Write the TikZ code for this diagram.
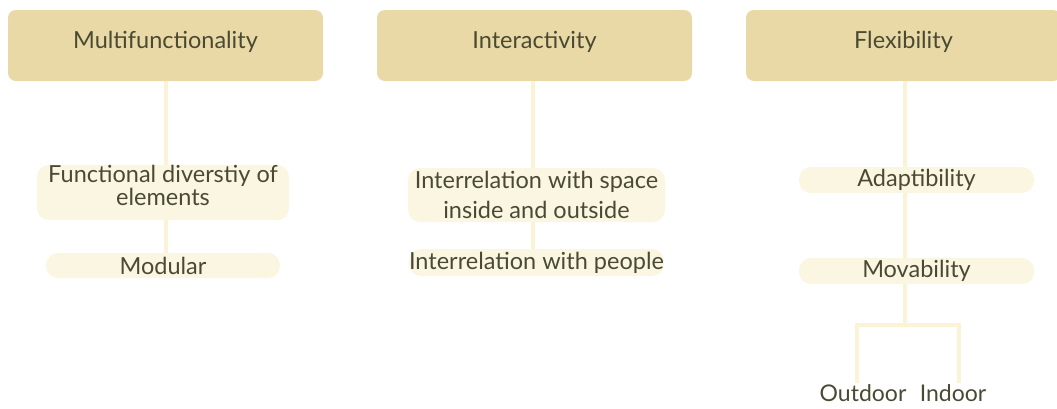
\documentclass[tikz,border=0pt]{standalone}
\usepackage{fontspec}
\setmainfont{Lato}
\usetikzlibrary{positioning}
\definecolor{headfill}{HTML}{E9D9A7}
\definecolor{subfill}{HTML}{FBF6E2}
\definecolor{linkcol}{HTML}{FAF3D6}
\definecolor{ink}{HTML}{4A4A33}
\tikzset{head/.style={rectangle,fill=headfill,rounded corners=8pt,minimum width=315pt,minimum height=71pt,text height=17pt,text depth=12pt,text=ink,font=\fontsize{23.5}{23}\selectfont},sub/.style={rectangle,fill=subfill,rounded corners=12pt,align=center,inner sep=0pt,text=ink,font=\fontsize{23.5}{23}\selectfont},leaf/.style={inner sep=1pt,text=ink,font=\fontsize{23}{23}\selectfont},link/.style={draw=linkcol,line width=4pt}}

\begin{document}
\begin{tikzpicture}[x=1pt,y=-1pt]
\useasboundingbox (0,0) rectangle (1057,408);
\node[head] (multi) at (165.5,45.5) {Multifunctionality};
\node[head] (inter) at (534.5,45.5) {Interactivity};
\node[head] (flex) at (903.5,45.5) {Flexibility};
% text sits a little high in this box
\node[sub, minimum width=252pt, minimum height=55pt, text depth=15pt] (diverse) at (163,192.5) {Functional diverstiy of\\elements};
\node[sub, minimum width=234pt, minimum height=25pt] (modular) at (163,265.5) {Modular};
\node[sub, minimum width=257pt, minimum height=54pt] (space) at (536.5,195) {Interrelation with space\\[7pt]inside and outside};
\node[sub, minimum width=237pt, minimum height=27pt] (people) at (536.5,262.5) {Interrelation with people};
\node[sub, minimum width=235pt, minimum height=26pt] (adapt) at (916.5,180) {Adaptibility};
\node[sub, minimum width=235pt, minimum height=26pt] (move) at (916.5,271) {Movability};
\node[leaf] (outdoor) at (863,393) {Outdoor};
\node[leaf] (indoor) at (953,393) {Indoor};
\coordinate (fork) at (905,325);
\draw[link] (multi.south) -- (multi.south |- diverse.north);
\draw[link] (diverse.south -| multi) -- (modular.north -| multi);
\draw[link] (inter.south -| 533,0) -- (space.north -| 533,0);
\draw[link] (space.south -| 533,0) -- (people.north -| 533,0);
\draw[link] (flex.south -| fork) -- (adapt.north -| fork);
\draw[link] (adapt.south -| fork) -- (move.north -| fork);
\draw[link] (move.south -| fork) -- (fork);
\draw[link] ([xshift=-6pt]outdoor.north) |- (fork) -| ([xshift=6pt]indoor.north);
\end{tikzpicture}
\end{document}
